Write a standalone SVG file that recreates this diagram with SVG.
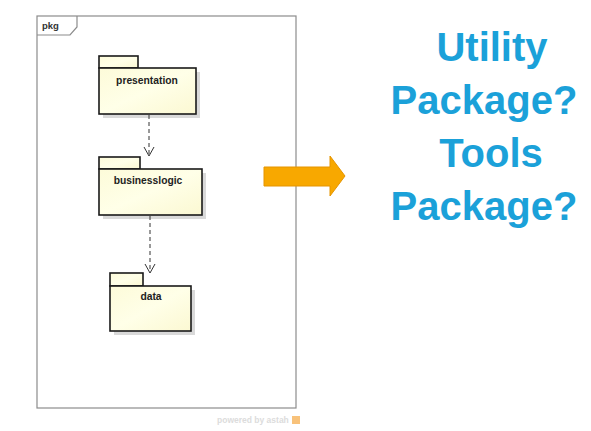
<svg xmlns="http://www.w3.org/2000/svg" width="591" height="431" viewBox="0 0 591 431">
<style>
.frame{fill:#ffffff;stroke:#8c8c8c;stroke-width:1.2}
.shadow{fill:#d9d9d9}
.pkg{fill:url(#yg);stroke:#1a1a1a;stroke-width:1.6}
.lbl{font-family:"Liberation Sans",Arial,sans-serif;font-weight:bold;font-size:10.3px;fill:#222}
.dep{fill:none;stroke:#333;stroke-width:1;stroke-dasharray:4,3}
.head{fill:none;stroke:#333;stroke-width:1}
.big{font-family:"Liberation Sans",Arial,sans-serif;font-weight:bold;font-size:40px;fill:#1ba1d9}
</style>
<defs>
<linearGradient id="yg" x1="0" y1="0" x2="1" y2="1">
<stop offset="0" stop-color="#fdfbd9"/>
<stop offset="0.5" stop-color="#ffffe8"/>
<stop offset="1" stop-color="#fbf8d2"/>
</linearGradient>
</defs>
<rect width="591" height="431" fill="#ffffff"/>
<g id="frame">
<rect class="frame" x="37" y="16" width="259" height="392"/>
<path d="M37,35 H70 L77,27 V16" fill="none" stroke="#8c8c8c" stroke-width="1.2"/>
<text x="42" y="29" font-family="'Liberation Sans',Arial,sans-serif" font-weight="bold" font-size="9.5" fill="#333">pkg</text>
</g>
<g id="presentation">
<rect class="shadow" x="103" y="72" width="97" height="46"/>
<rect class="pkg" x="99" y="56" width="39" height="12"/>
<rect class="pkg" x="99" y="68" width="97" height="46"/>
<text class="lbl" x="147" y="84" text-anchor="middle">presentation</text>
</g>
<g id="businesslogic">
<rect class="shadow" x="103" y="173" width="103" height="46"/>
<rect class="pkg" x="99" y="157" width="41" height="12"/>
<rect class="pkg" x="99" y="169" width="103" height="46"/>
<text class="lbl" x="148" y="184" text-anchor="middle">businesslogic</text>
</g>
<g id="data">
<rect class="shadow" x="114" y="290" width="81" height="45"/>
<rect class="pkg" x="110" y="273" width="33" height="13"/>
<rect class="pkg" x="110" y="286" width="81" height="45"/>
<text class="lbl" x="151" y="300" text-anchor="middle">data</text>
</g>
<g id="connectors">
<path class="dep" d="M149,115 V155"/>
<path class="head" d="M144,147 L149,156 L154,147"/>
<path class="dep" d="M150,216 V272"/>
<path class="head" d="M145,264 L150,273 L155,264"/>
<path d="M264,167 H330 V156 L345,176 L330,196 V186 H264 Z" fill="#f8a800" stroke="#e59400" stroke-width="1"/>
</g>
<g id="question">
<text class="big" x="492" y="61" text-anchor="middle">Utility</text>
<text class="big" x="484" y="114" text-anchor="middle">Package?</text>
<text class="big" x="491" y="167" text-anchor="middle">Tools</text>
<text class="big" x="484" y="220" text-anchor="middle">Package?</text>
</g>
<g id="watermark">
<text x="217" y="423" font-family="'Liberation Sans',Arial,sans-serif" font-weight="bold" font-size="8.5" fill="#dcdcdc">powered by astah</text>
<rect x="292" y="416" width="8" height="8" fill="#f8c27a"/>
</g>
</svg>
